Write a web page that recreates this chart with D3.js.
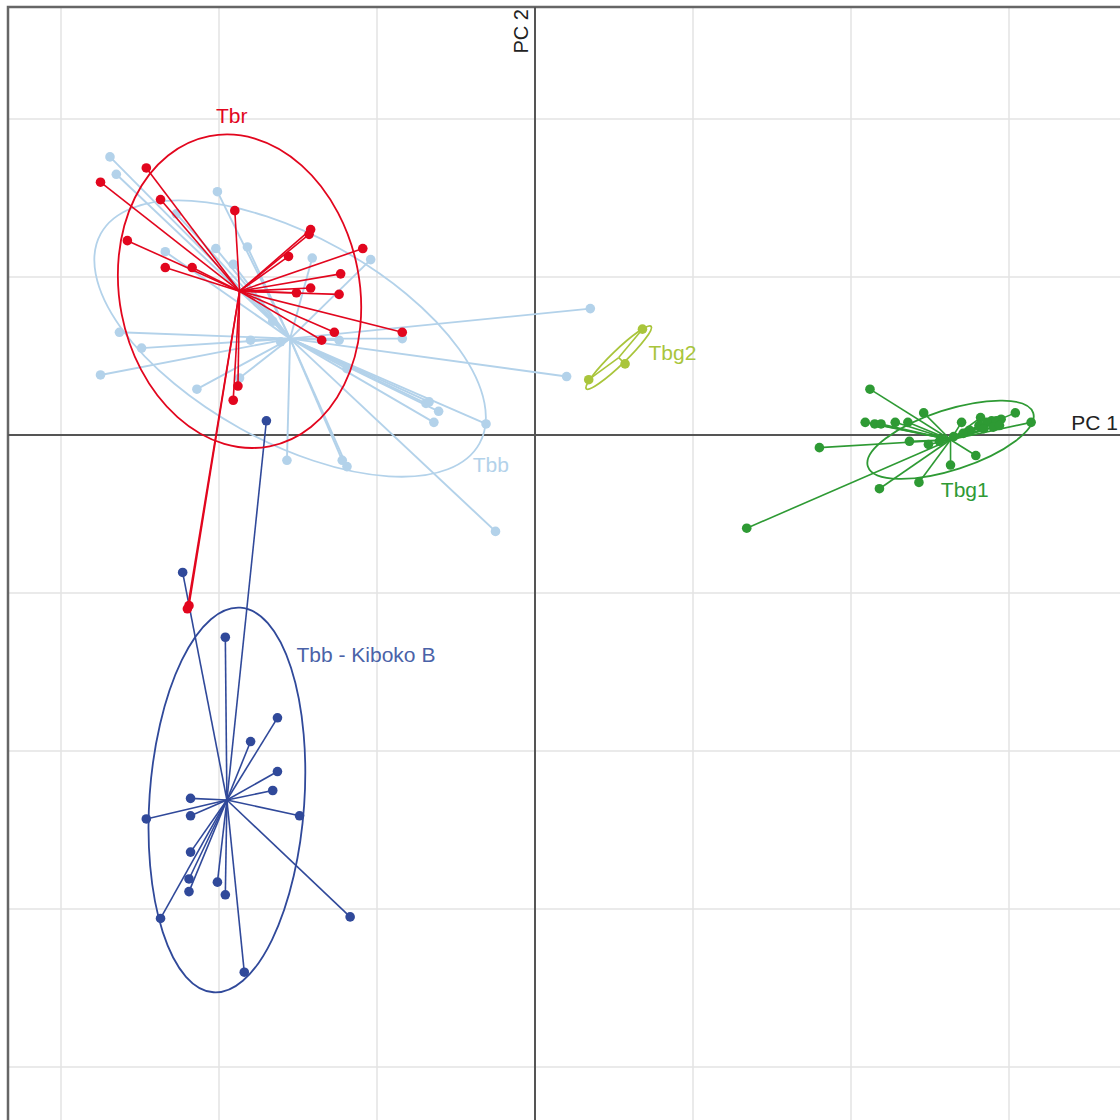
<!DOCTYPE html>
<html>
<head>
<meta charset="utf-8">
<script src="https://cdn.jsdelivr.net/npm/d3@7"></script>
<style>
  body { margin: 0; background: #fff; }
  svg { display: block; font-family: "Liberation Sans", Arial, sans-serif; }
</style>
</head>
<body>
<div id="chart"></div>
<script>
// group order as the factor levels
const groups = ["Tbb", "Tbb - Kiboko B", "Tbg1", "Tbg2", "Tbr"];
const colors = ["#b3d2ea", "#30499a", "#2e9a34", "#a9c53b", "#e2061e"];

// individual scores (PC1, PC2) per group
const tbb = [[-2.69,1.76],[-2.65,1.65],[-2.01,1.54],[-2.27,1.40],[-2.34,1.16],[-2.02,1.18],[-1.82,1.19],[-1.91,1.08],
  [-1.41,1.12],[-1.04,1.11],[-2.63,0.65],[-2.49,0.55],[-2.75,0.38],[-2.14,0.29],[-1.87,0.36],[-1.80,0.60],[-1.61,0.59],
  [-1.24,0.60],[-0.84,0.61],[-1.19,0.42],[-0.69,0.20],[-0.67,0.21],[-0.61,0.15],[-0.64,0.08],[-0.31,0.07],[-1.57,-0.16],
  [-1.22,-0.16],[-1.19,-0.20],[-0.25,-0.61],[0.35,0.80],[0.20,0.37],[-1.66,0.72]];
const kiboko = [[-1.70,0.09],[-2.23,-0.87],[-1.96,-1.28],[-1.63,-1.79],[-1.80,-1.94],[-1.63,-2.13],[-1.66,-2.25],
  [-2.18,-2.30],[-2.18,-2.41],[-2.46,-2.43],[-1.49,-2.41],[-2.18,-2.64],[-2.19,-2.81],[-2.19,-2.89],[-2.01,-2.83],
  [-1.96,-2.91],[-2.37,-3.06],[-1.17,-3.05],[-1.84,-3.40]];
const tbg1 = [[2.12,0.29],[2.46,0.14],[2.09,0.08],[2.15,0.07],[2.19,0.07],[2.28,0.08],[2.36,0.08],[2.70,0.08],
  [2.82,0.11],[2.89,0.09],[2.95,0.10],[3.04,0.14],[3.14,0.08],[2.81,0.06],[2.86,0.08],[2.92,0.09],[2.84,0.04],
  [2.90,0.05],[2.94,0.06],[2.75,0.03],[2.65,-0.01],[2.71,0.01],[2.37,-0.04],[2.49,-0.06],[2.56,-0.04],[1.80,-0.08],
  [2.79,-0.13],[2.63,-0.19],[2.43,-0.30],[2.18,-0.34],[1.34,-0.59]];
const tbg2 = [[0.68,0.67],[0.57,0.45],[0.34,0.35]];
const tbr = [[-2.75,1.60],[-2.46,1.69],[-2.37,1.49],[-2.58,1.23],[-2.34,1.06],[-2.17,1.06],[-1.90,1.42],[-1.42,1.30],
  [-1.43,1.27],[-1.56,1.13],[-1.09,1.18],[-1.23,1.02],[-1.42,0.93],[-1.51,0.90],[-1.24,0.89],[-1.27,0.65],
  [-0.84,0.65],[-1.35,0.60],[-1.88,0.31],[-1.91,0.22],[-2.19,-1.08],[-2.20,-1.10]];
const scores = [tbb, kiboko, tbg1, tbg2, tbr];

// group centroids
const centroids = [[-1.55,0.61],[-1.95,-2.31],[2.63,-0.03],[0.53,0.49],[-1.87,0.91]];
// ellipses: half-width, half-height (data units), rotation in degrees
const ellipseW = [1.37, 0.49, 0.55, 0.285, 0.76];
const ellipseH = [0.65, 1.22, 0.19, 0.045, 1.00];
const ellipseRot = [29, 4, -18, -44, -11];
// label positions
const labelPos = [[-0.28,-0.20],[-1.07,-1.40],[2.72,-0.36],[0.87,0.51],[-1.92,2.01]];
const labelColors = ["#b3d2ea", "#4a62a8", "#2e9a34", "#a9c53b", "#e2061e"];

const gridX = [-3, -2, -1, 1, 2, 3];
const gridY = [-4, -3, -2, -1, 1, 2];

const width = 1120, height = 1120;
const x = d3.scaleLinear().domain([-3, 3]).range([61, 1009]);
const y = d3.scaleLinear().domain([-4, 2]).range([1067, 119]);

const svg = d3.select("#chart").append("svg")
    .attr("width", width)
    .attr("height", height);

// grid
svg.append("g").selectAll("line").data(gridX).join("line")
    .attr("x1", d => x(d)).attr("x2", d => x(d))
    .attr("y1", 7).attr("y2", height)
    .attr("stroke", "#e3e3e3").attr("stroke-width", 1.5);
svg.append("g").selectAll("line").data(gridY).join("line")
    .attr("x1", 8).attr("x2", width)
    .attr("y1", d => y(d)).attr("y2", d => y(d))
    .attr("stroke", "#e3e3e3").attr("stroke-width", 1.5);

// frame (only left and top visible)
svg.append("rect")
    .attr("x", 8).attr("y", 7)
    .attr("width", width + 20).attr("height", height + 20)
    .attr("fill", "none").attr("stroke", "#666").attr("stroke-width", 2.5);

// axes through origin
svg.append("line")
    .attr("x1", 8).attr("x2", width)
    .attr("y1", y(0)).attr("y2", y(0))
    .attr("stroke", "#555").attr("stroke-width", 2);
svg.append("line")
    .attr("x1", x(0)).attr("x2", x(0))
    .attr("y1", 7).attr("y2", height)
    .attr("stroke", "#555").attr("stroke-width", 2);

svg.append("text")
    .attr("x", 1118).attr("y", y(0) - 11)
    .attr("text-anchor", "end").attr("dominant-baseline", "middle")
    .attr("font-size", 21).attr("fill", "#222")
    .text("PC 1");
svg.append("text")
    .attr("transform", "translate(" + (x(0) - 12) + ",9) rotate(-90)")
    .attr("text-anchor", "end").attr("dominant-baseline", "middle")
    .attr("font-size", 20).attr("fill", "#222")
    .text("PC 2");

const unit = x(1) - x(0);

groups.forEach(function (g, i) {
    const c = centroids[i];
    const col = colors[i];
    const layer = svg.append("g");

    // star lines
    layer.selectAll("line").data(scores[i]).join("line")
        .attr("x1", x(c[0])).attr("y1", y(c[1]))
        .attr("x2", d => x(d[0])).attr("y2", d => y(d[1]))
        .attr("stroke", col).attr("stroke-width", i === 0 ? 1.9 : 1.6);

    // ellipse
    layer.append("ellipse")
        .attr("transform", "translate(" + x(c[0]) + "," + y(c[1]) + ") rotate(" + ellipseRot[i] + ")")
        .attr("rx", ellipseW[i] * unit)
        .attr("ry", ellipseH[i] * unit)
        .attr("fill", "none").attr("stroke", col).attr("stroke-width", 1.8);

    // points
    layer.selectAll("circle").data(scores[i]).join("circle")
        .attr("cx", d => x(d[0])).attr("cy", d => y(d[1]))
        .attr("r", 4.8)
        .attr("fill", col);

    // label
    svg.append("text")
        .attr("x", x(labelPos[i][0])).attr("y", y(labelPos[i][1]))
        .attr("text-anchor", "middle").attr("dominant-baseline", "middle")
        .attr("font-size", 21).attr("fill", labelColors[i])
        .text(g);
});
</script>
</body>
</html>
